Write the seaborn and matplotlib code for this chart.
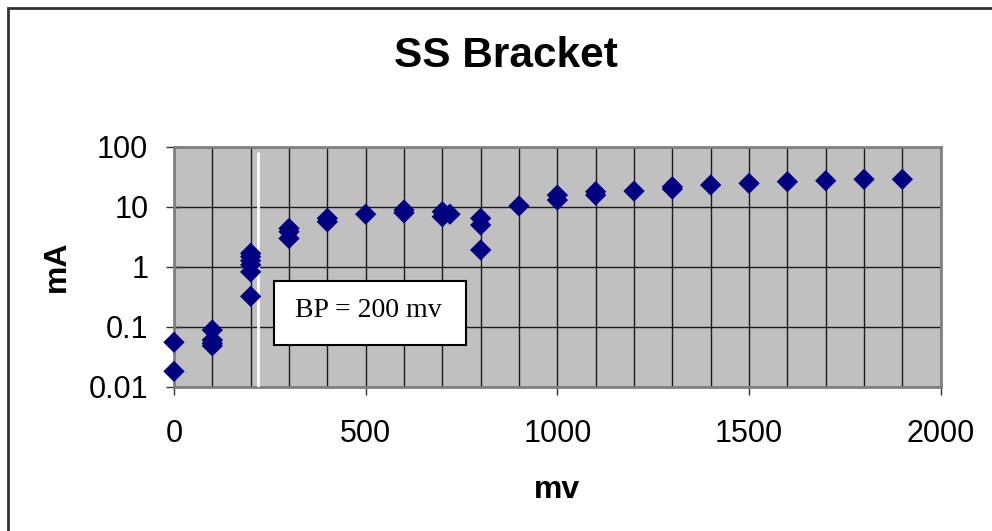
import numpy as np
import pandas as pd
import seaborn as sns
import matplotlib.pyplot as plt
from matplotlib.patches import Rectangle
from matplotlib.ticker import FixedLocator, MultipleLocator, NullFormatter, NullLocator

# DATA
mv = [0, 0, 100, 100, 100, 100, 200, 200, 200, 200, 200, 200,
      300, 300, 300, 400, 400, 500, 600, 600, 700, 700, 720,
      800, 800, 800, 900, 1000, 1000, 1100, 1100, 1200, 1300, 1300,
      1400, 1500, 1600, 1700, 1800, 1900]
mA = [0.055, 0.018, 0.088, 0.060, 0.053, 0.048, 1.67, 1.47, 1.26, 1.07, 0.82, 0.32,
      4.35, 3.83, 2.96, 6.4, 5.6, 7.5, 8.8, 7.9, 8.25, 6.8, 7.5,
      6.4, 4.95, 1.9, 10.3, 15.6, 12.9, 17.8, 15.6, 18.2, 21.5, 19.7,
      23.0, 24.5, 26.1, 27.1, 28.6, 28.6]
y_ticks = [0.01, 0.1, 1, 10, 100]
y_tick_labels = ["0.01", "0.1", "1", "10", "100"]
x_ticks = [0, 500, 1000, 1500, 2000]
bp_mv = 218
bp_label = "BP = 200 mv"

df = pd.DataFrame({"mv": mv, "mA": mA})

sns.set_theme(style="white")
plt.rcParams["font.family"] = ["Liberation Sans", "DejaVu Sans"]
plt.rcParams.update({"text.color": "black", "axes.labelcolor": "black",
                     "xtick.color": "black", "ytick.color": "black"})

fig = plt.figure(figsize=(9.92, 5.31), dpi=100)
ax = fig.add_axes([0.1754, 0.2718, 0.7729, 0.4519])
ax.set_facecolor("#c0c0c0")

sns.scatterplot(data=df, x="mv", y="mA", marker="D", s=118, color="#000080",
                edgecolor="none", linewidth=0, ax=ax, zorder=4, clip_on=False)

ax.set_yscale("log")
ax.set_ylim(0.01, 100)
ax.set_xlim(0, 2000)

ax.yaxis.set_major_locator(FixedLocator(y_ticks))
ax.set_yticklabels(y_tick_labels)
ax.yaxis.set_minor_locator(NullLocator())
ax.xaxis.set_major_locator(FixedLocator(x_ticks))
ax.xaxis.set_minor_locator(MultipleLocator(100))
ax.xaxis.set_minor_formatter(NullFormatter())

ax.grid(True, which="major", axis="y", color="#1a1a1a", lw=1.0, zorder=1)
ax.grid(True, which="both", axis="x", color="#1a1a1a", lw=1.0, zorder=1)
ax.set_axisbelow(True)

# break-point marker line
ax.plot([bp_mv, bp_mv], [0.01, 80], color="white", lw=2, zorder=3)

for s in ax.spines.values():
    s.set_color("#808080")
    s.set_linewidth(2)

ax.tick_params(axis="x", which="major", direction="out", length=6, width=1,
               color="#333333", labelcolor="black", pad=17, labelsize=22, bottom=True)
ax.tick_params(axis="x", which="minor", length=0)
ax.tick_params(axis="y", which="major", direction="inout", length=11, width=1,
               color="#333333", labelcolor="black", pad=13, labelsize=22, left=True)

ax.set_xlabel("mv", fontsize=23, fontweight="bold", color="black")
ax.set_ylabel("mA", fontsize=23, fontweight="bold", color="black")
ax.xaxis.set_label_coords(0.5, -0.37)
ax.yaxis.set_label_coords(-0.1335, 0.5)

# annotation box
ax.add_patch(Rectangle((0.1304, 0.174), 0.2506, 0.2677, transform=ax.transAxes,
                       facecolor="white", edgecolor="black", lw=1.5, zorder=5))
ax.text(0.158, 0.29, bp_label, transform=ax.transAxes, ha="left", va="baseline",
        fontsize=20, color="black", family=["Liberation Serif", "DejaVu Serif"], zorder=6)

fig.text(0.51, 1 - 66.7 / 531, "SS Bracket", ha="center", va="baseline",
         fontsize=30.5, fontweight="bold", color="black")

# outer chart frame
fig.patches.append(Rectangle((8 / 992, -0.1), 1.2, 1.1 - 8 / 531,
                             transform=fig.transFigure, facecolor="none",
                             edgecolor="#333333", lw=2, figure=fig))

fig.savefig("out.png", dpi=100)
